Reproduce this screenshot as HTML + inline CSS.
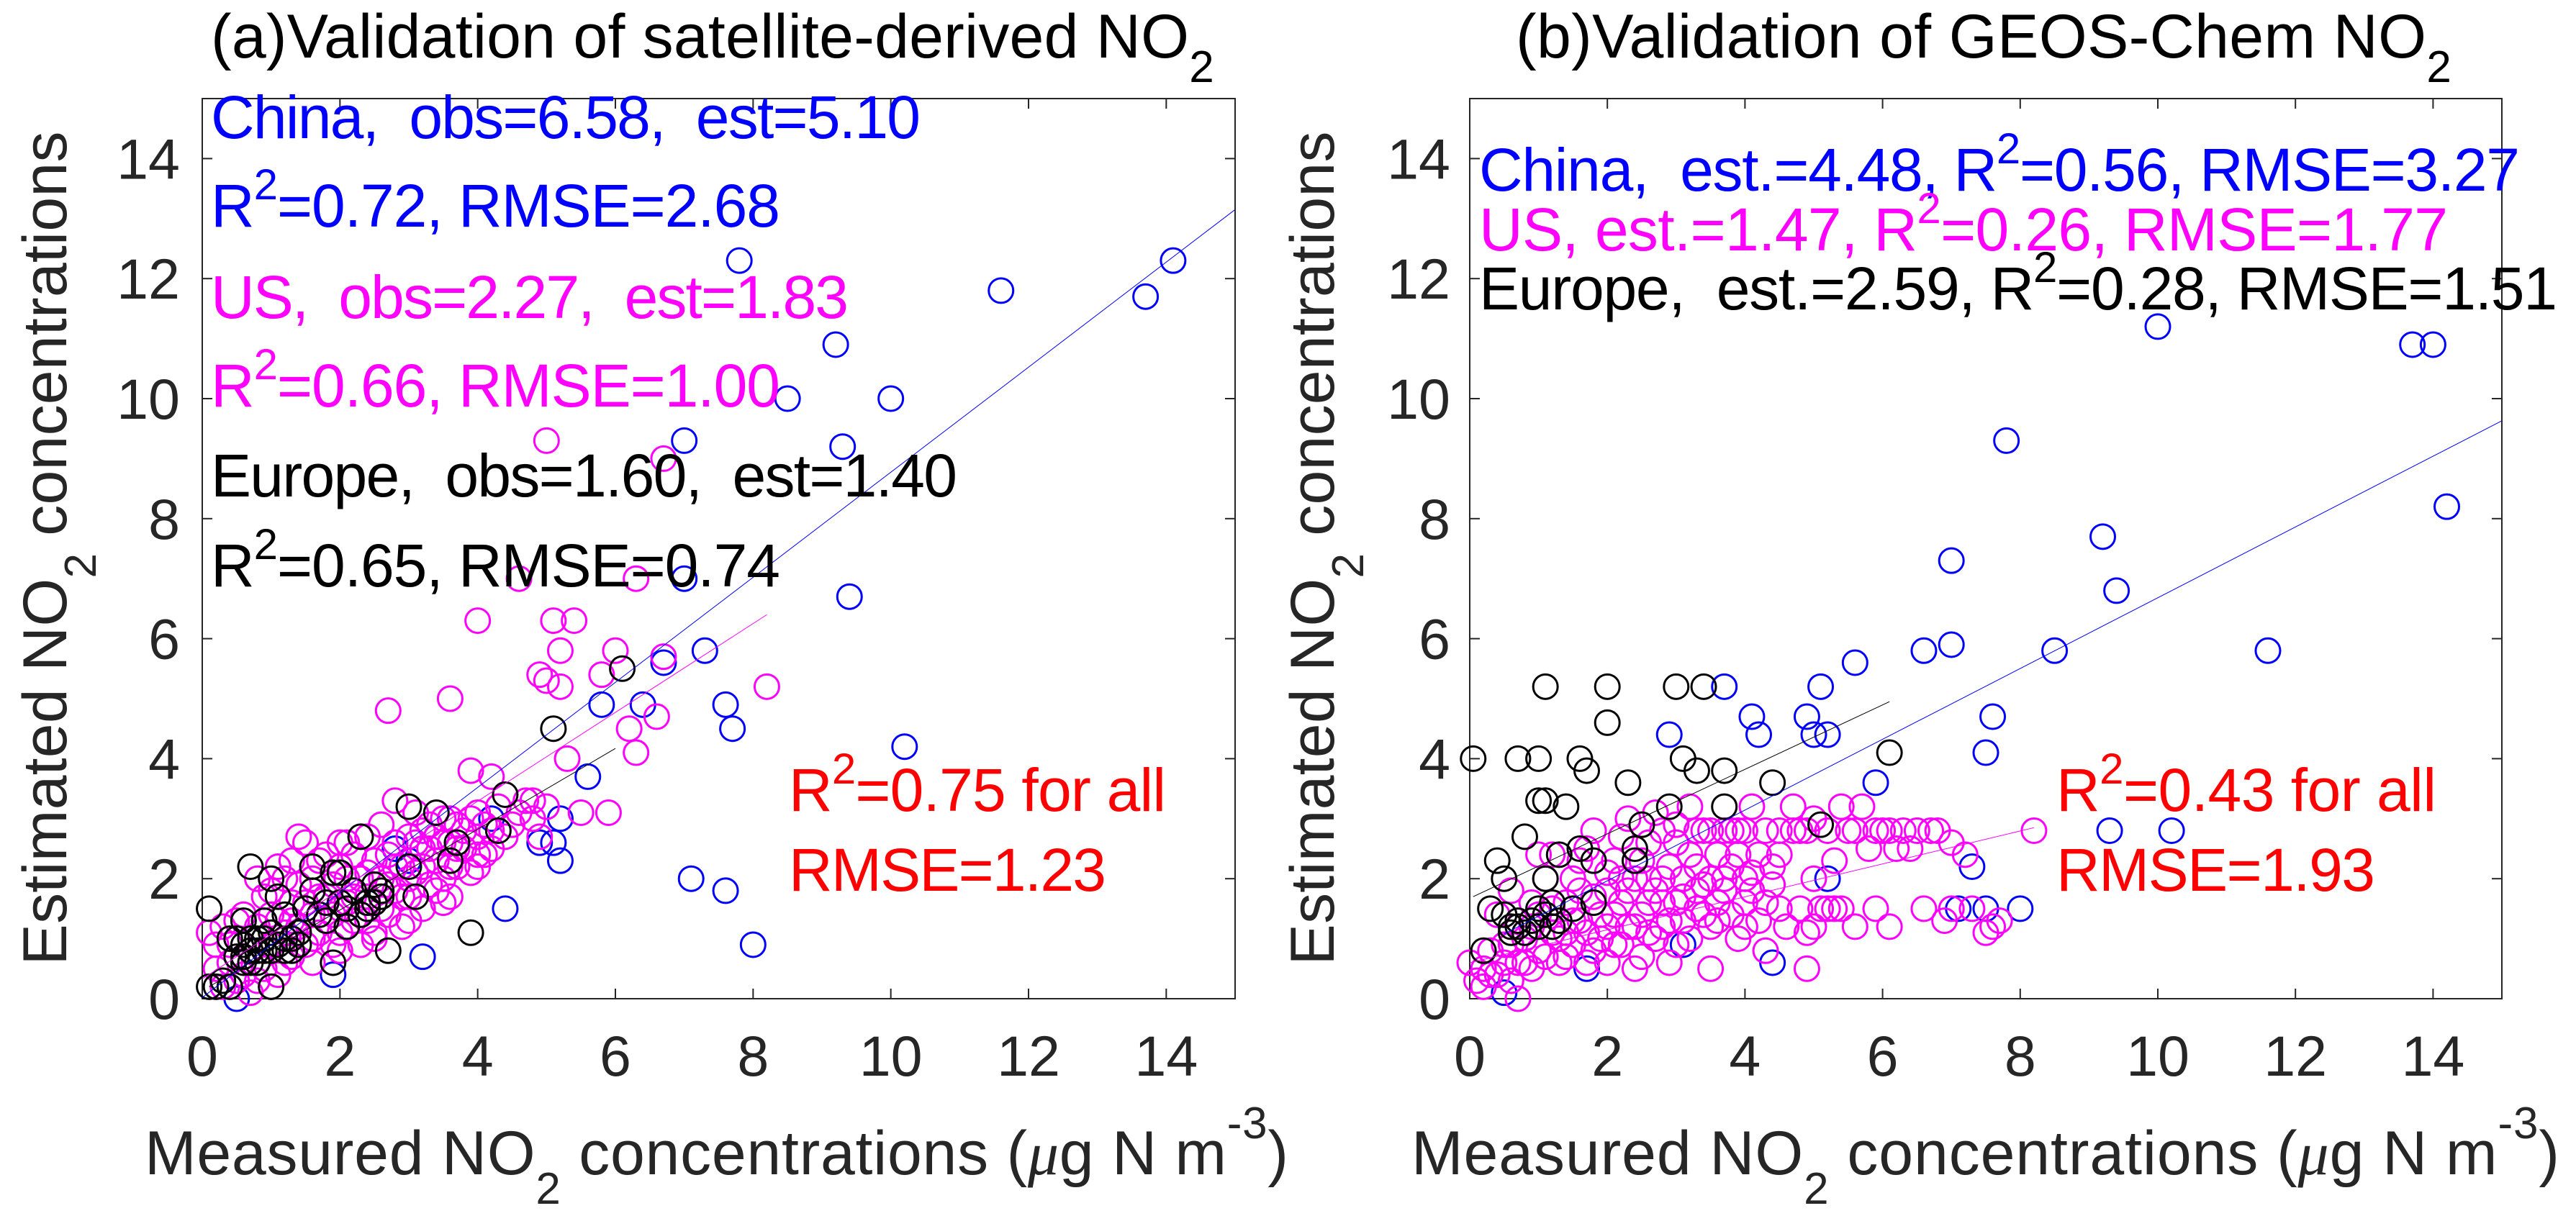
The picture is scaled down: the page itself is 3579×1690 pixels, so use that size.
<!DOCTYPE html>
<html><head><meta charset="utf-8"><style>
html,body{margin:0;padding:0;background:#fff;}
svg{display:block;font-family:"Liberation Sans",sans-serif;}
text{white-space:pre;}
</style></head><body>
<svg id="fig" width="3579" height="1690" viewBox="0 0 3579 1690" xmlns="http://www.w3.org/2000/svg"></svg>
<script>
// ---- data ----
const xTicks = [0,2,4,6,8,10,12,14];
const yTicks = [0,2,4,6,8,10,12,14];
const aChina = [[7.8,12.3],[11.6,11.8],[13.7,11.7],[14.1,12.3],[9.2,10.9],[8.5,10.0],[10.0,10.0],[7.0,9.3],[9.3,9.2],[7.0,7.0],[9.4,6.7],[7.3,5.8],[5.8,4.9],[6.4,4.9],[7.6,4.9],[7.7,4.5],[6.7,5.6],[10.2,4.2],[5.6,3.7],[5.2,3.0],[5.1,2.6],[5.2,2.3],[4.2,3.0],[4.4,1.5],[7.1,2.0],[7.6,1.8],[8.0,0.9],[3.2,0.7],[1.9,0.4],[0.5,0.0],[3.4,2.7],[2.8,2.5],[4.9,2.6],[3.0,2.3]];
const aUS = [[5.0,9.3],[6.7,9.0],[4.6,7.0],[6.3,7.0],[4.0,6.3],[5.1,6.3],[5.4,6.3],[5.2,5.8],[6.0,5.8],[6.7,5.7],[4.9,5.4],[5.2,5.2],[5.0,5.3],[5.8,5.4],[8.2,5.2],[2.7,4.8],[3.6,5.0],[6.6,4.7],[6.2,4.5],[6.3,4.1],[5.3,4.0],[3.9,3.8],[4.2,3.7],[4.8,3.3],[5.9,3.1],[5.5,3.1],
[0.1,1.1],[0.2,0.9],[0.3,1.2],[0.4,0.6],[0.5,1.0],[0.5,0.3],[0.6,1.4],[0.7,0.8],[0.7,0.1],[0.8,1.2],[0.9,0.5],[0.9,1.7],[1.0,0.9],[1.0,1.4],[1.1,0.4],[1.1,2.2],[1.2,1.1],[1.3,1.6],[1.3,0.7],[1.4,1.9],[1.4,1.2],[1.5,0.9],[1.5,2.6],[1.6,1.4],[1.6,2.0],[1.7,1.1],[1.7,1.7],[1.8,2.4],[1.8,1.3],[1.9,0.9],[1.9,1.9],[2.0,1.5],[2.0,2.6],[2.1,1.2],[2.1,2.0],[2.2,1.7],[2.2,2.4],[2.3,0.9],[2.3,1.4],[2.4,2.1],[2.4,2.7],[2.5,1.6],[2.5,1.1],[2.6,2.0],[2.6,2.9],[2.7,1.4],[2.7,2.4],[2.8,1.8],[2.8,3.3],[2.9,2.2],[2.9,1.2],[3.0,2.7],[3.0,1.7],[3.1,3.1],[3.1,2.1],[3.2,2.5],[3.2,1.5],[3.3,2.9],[3.3,1.9],[3.4,2.3],[3.4,2.7],[3.5,3.0],[3.5,2.0],[3.6,2.6],[3.6,1.7],[3.7,2.9],[3.7,2.2],[3.8,2.5],[3.9,3.0],[3.9,2.1],[4.0,2.7],[4.0,3.1],[4.1,2.4],[4.2,2.8],[4.3,3.2],[4.5,2.9],[4.6,3.1],[4.7,3.3],[4.8,3.0],[4.9,2.7],[5.0,3.2],[1.4,2.7],[2.1,2.6],[1.2,2.0],[0.8,2.0],[0.3,0.2],[0.6,0.4],[1.0,0.2],[1.6,0.6],[2.0,0.8],[2.5,1.0],[3.0,1.3],[3.5,1.6],
[0.2,0.5],[0.4,0.9],[0.6,0.7],[0.8,0.3],[0.9,1.0],[1.1,1.3],[1.2,0.6],[1.3,1.3],[1.5,1.6],[1.6,1.0],[1.7,2.3],[1.8,1.7],[1.9,1.4],[2.0,1.1],[2.1,1.6],[2.2,1.3],[2.3,2.0],[2.4,1.7],[2.5,2.3],[2.6,1.5],[2.7,1.9],[2.8,2.6],[2.9,1.7],[3.0,2.0],[3.1,2.6],[3.2,2.2],[3.3,2.5],[3.4,1.8],[3.5,2.6],[3.6,2.2],[3.7,2.5],[3.8,2.8],[4.0,2.4],[4.1,2.9],[4.2,2.5],[4.4,2.7],[1.0,1.8],[1.3,2.3],[0.5,1.3],[2.0,2.2],[2.4,1.3],[2.8,2.2],[3.2,2.8],[3.6,3.0],[4.0,2.2]];
const aEurope = [[0.1,1.5],[0.1,0.2],[0.2,0.2],[0.3,0.3],[0.4,0.2],[0.5,0.7],[0.5,1.0],[0.6,0.6],[0.6,0.9],[0.7,0.8],[0.7,2.2],[0.8,1.0],[0.8,0.6],[0.9,1.3],[0.9,0.8],[1.0,2.0],[1.0,1.1],[1.0,0.2],[1.1,0.9],[1.1,1.7],[1.2,0.8],[1.2,1.4],[1.3,1.0],[1.4,1.1],[1.5,1.5],[1.6,1.8],[1.6,2.2],[1.7,1.4],[1.8,1.3],[1.9,2.1],[1.9,0.6],[2.0,1.6],[2.1,1.2],[2.2,1.8],[2.3,2.7],[2.4,1.6],[2.5,1.9],[2.6,1.8],[2.7,0.8],[3.0,3.2],[3.1,1.7],[3.0,2.2],[3.4,3.1],[3.7,2.6],[3.6,2.3],[3.9,1.1],[4.3,2.8],[4.4,3.4],[5.1,4.5],[6.1,5.5],[0.6,1.3],[0.4,1.0],
[0.6,0.7],[0.7,1.0],[0.8,0.8],[0.7,0.6],[0.9,1.0],[1.0,0.8],[1.2,1.0],[1.3,0.8],[1.4,0.9],[2.1,1.5],[2.0,2.1],[1.8,1.6],[2.3,1.4],[2.4,1.5],[2.6,1.7],[2.5,1.6]];
const bChina = [[10.0,11.2],[13.7,10.9],[14.0,10.9],[7.8,9.3],[14.2,8.2],[9.2,7.7],[7.0,7.3],[9.4,6.8],[6.6,5.8],[7.0,5.9],[8.5,5.8],[11.6,5.8],[5.6,5.6],[3.7,5.2],[5.1,5.2],[4.1,4.7],[4.9,4.7],[5.2,4.4],[5.0,4.4],[2.9,4.4],[4.2,4.4],[7.6,4.7],[7.5,4.1],[5.9,3.6],[9.3,2.8],[10.2,2.8],[7.3,2.2],[5.2,2.0],[7.1,1.5],[7.5,1.5],[8.0,1.5],[4.4,0.6],[3.1,0.9],[0.5,0.1],[1.7,0.5]];
const bUS = [[0.0,0.6],[0.1,0.3],[0.2,0.5],[0.3,0.8],[0.4,0.4],[0.5,0.9],[0.6,0.3],[0.7,0.0],[0.7,0.6],[0.8,1.0],[0.9,0.5],[1.0,1.4],[1.0,0.8],[1.1,2.0],[1.2,1.1],[1.3,0.6],[1.4,1.6],[1.5,0.9],[1.5,2.0],[1.6,1.3],[1.7,0.6],[1.7,2.5],[1.8,1.7],[1.9,1.0],[2.0,2.1],[2.0,0.6],[2.1,1.4],[2.2,2.7],[2.2,0.9],[2.3,1.8],[2.4,1.2],[2.5,2.3],[2.5,0.7],[2.6,1.6],[2.7,3.1],[2.7,1.0],[2.8,2.0],[2.9,1.3],[2.9,0.6],[3.0,2.6],[3.1,1.7],[3.2,3.2],[3.2,1.0],[3.3,2.2],[3.4,1.4],[3.4,2.8],[3.5,2.0],[3.5,0.5],[3.6,1.3],[3.7,2.8],[3.7,1.8],[3.8,2.2],[3.9,1.0],[3.9,2.8],[4.0,1.6],[4.1,3.2],[4.1,2.1],[4.2,1.3],[4.3,2.8],[4.3,0.8],[4.4,1.9],[4.7,2.8],[4.7,3.2],[4.8,1.5],[4.9,2.8],[4.9,1.1],[4.9,0.5],[5.0,2.0],[5.1,1.5],[5.2,2.8],[5.3,1.5],[5.4,3.2],[5.5,2.8],[5.6,1.2],[5.7,3.2],[5.8,2.5],[5.9,1.5],[6.0,2.8],[6.1,1.2],[6.3,2.8],[6.4,2.5],[6.6,1.5],[6.7,2.8],[6.9,1.3],[7.0,2.6],[7.2,2.4],[7.5,1.1],[7.7,1.3],[8.2,2.8],[1.2,2.4],[0.6,1.8],[1.0,2.4],[2.3,3.0],[3.0,0.9],[2.6,2.0],[1.8,2.8],[3.6,2.4],[4.5,2.4],[4.0,2.0],[5.3,2.3],[0.4,1.4],[1.4,1.1],[2.0,1.8],[2.8,1.6],[3.3,1.8],
[0.2,0.2],[0.3,0.4],[0.5,0.6],[0.6,0.9],[0.8,0.6],[0.9,1.2],[1.1,0.7],[1.2,1.5],[1.3,1.0],[1.4,0.7],[1.5,1.3],[1.6,1.8],[1.7,1.1],[1.8,0.8],[1.9,1.4],[2.0,1.2],[2.1,0.9],[2.1,2.3],[2.2,1.6],[2.3,1.2],[2.4,2.0],[2.4,0.5],[2.5,1.4],[2.6,2.6],[2.6,1.1],[2.7,1.8],[2.8,1.2],[2.8,2.8],[2.9,2.2],[3.0,1.6],[3.0,2.9],[3.1,1.3],[3.2,2.4],[3.3,1.5],[3.3,2.8],[3.4,1.9],[3.5,1.2],[3.5,2.8],[3.6,1.6],[3.8,2.8],[3.8,1.4],[3.9,2.4],[4.0,2.8],[4.0,1.2],[4.1,1.8],[4.2,2.4],[4.3,1.6],[4.5,1.5],[4.5,2.8],[4.6,1.2],[4.8,2.8],[5.0,1.2],[5.0,3.0],[5.2,1.5],[5.4,1.5],[5.6,2.8],[5.9,2.8],[6.1,2.8],[6.2,2.5],[6.5,2.8],[6.8,2.8],[7.0,1.5],[7.3,1.5],[7.6,1.2],[1.6,2.3],[0.9,1.6],[2.2,2.0],[3.1,2.0],[3.7,2.0],[4.4,2.2]];
const bEurope = [[0.05,4.0],[0.7,4.0],[1.0,4.0],[1.1,5.2],[2.0,5.2],[3.0,5.2],[3.4,5.2],[2.0,4.6],[1.6,4.0],[1.7,3.8],[3.1,4.0],[3.3,3.8],[3.7,3.8],[2.3,3.6],[4.4,3.6],[6.1,4.1],[1.1,3.3],[1.0,3.3],[1.4,3.2],[2.9,3.2],[3.7,3.2],[2.5,2.9],[5.1,2.9],[0.8,2.7],[0.4,2.3],[1.3,2.4],[1.8,2.3],[1.6,2.5],[2.4,2.5],[2.4,2.3],[0.5,2.0],[1.1,2.0],[0.3,1.5],[0.5,1.4],[0.7,1.2],[0.9,1.3],[1.2,1.6],[1.5,1.5],[1.8,1.6],[1.3,1.3],[0.2,0.8],[1.0,1.2],[0.6,1.1],
[0.6,1.2],[0.7,1.3],[0.8,1.1],[1.0,1.5],[1.1,1.4],[1.2,1.2]];
// fit lines: [x0,y0,x1,y1]
const aFitChina = [0,0.02,15,13.15];
const aFitUS = [0,0.33,8.2,6.4];
const aFitEurope = [0.1,0.2,6.0,4.17];
const bFitChina = [0.5,1.08,15,9.63];
const bFitUS = [0,0.6,8.2,2.85];
const bFitEurope = [0.05,1.7,6.1,4.95];

const NS="http://www.w3.org/2000/svg";
const svg=document.getElementById('fig');
function el(tag,attrs,parent){const e=document.createElementNS(NS,tag);for(const k in attrs)e.setAttribute(k,attrs[k]);(parent||svg).appendChild(e);return e;}

const panels=[
 {id:'a',L:281,R:1716,T:137,B:1388,china:aChina,us:aUS,eu:aEurope,fits:[aFitChina,aFitUS,aFitEurope],ytr:250,ylx:92,xlStart:201,xlLen:1589,
  title:'(a)Validation of satellite-derived NO',tx:293,tlen:1359},
 {id:'b',L:2042,R:3476,T:137,B:1388,china:bChina,us:bUS,eu:bEurope,fits:[bFitChina,bFitUS,bFitEurope],ytr:2015,ylx:1853,xlStart:1961,xlLen:1595,
  title:'(b)Validation of GEOS-Chem NO',tx:2106,tlen:1265}
];
const colors=['#0000ff','#ff00ff','#000000'];

panels.forEach(p=>{
  const g=el('g',{});
  
  
  const sx=v=>p.L+(v/15)*(p.R-p.L);
  const sy=v=>p.B-(v/15)*(p.B-p.T);
  const box=el('rect',{x:p.L,y:p.T,width:p.R-p.L,height:p.B-p.T,fill:'none',stroke:'#262626','stroke-width':2},g);
  
  
  xTicks.forEach(t=>{
    const x=sx(t);
    el('line',{x1:x,y1:p.B,x2:x,y2:p.B-14,stroke:'#262626','stroke-width':2},g);
    el('line',{x1:x,y1:p.T,x2:x,y2:p.T+14,stroke:'#262626','stroke-width':2},g);
    const tl=el('text',{x:x,y:1495,'font-size':79,'text-anchor':'middle',fill:'#262626'},g);
    tl.textContent=t;
    
    
  });
  yTicks.forEach(t=>{
    const y=sy(t);
    el('line',{x1:p.L,y1:y,x2:p.L+14,y2:y,stroke:'#262626','stroke-width':2},g);
    el('line',{x1:p.R,y1:y,x2:p.R-14,y2:y,stroke:'#262626','stroke-width':2},g);
    const tl=el('text',{x:p.ytr,y:y+28,'font-size':79,'text-anchor':'end',fill:'#262626'},g);
    tl.textContent=t;
    
    
  });
  [p.china,p.us,p.eu].forEach((arr,i)=>{
    const sg=el('g',{fill:'none',stroke:colors[i],'stroke-width':3},g);
    
    
    arr.forEach(d=>{
      const c=el('circle',{cx:sx(d[0]),cy:sy(d[1]),r:17},sg);
      
      
    });
  });
  p.fits.forEach((f,i)=>{
    const ln=el('line',{x1:sx(f[0]),y1:sy(f[1]),x2:sx(f[2]),y2:sy(f[3]),stroke:colors[i],'stroke-width':1},g);
    
    
  });
  const tt=el('text',{x:p.tx,y:80,'font-size':86,fill:'#000'},g);
  
  
  const t1=el('tspan',{textLength:p.tlen},tt); t1.textContent=p.title;
  const t2=el('tspan',{dy:34,'font-size':62},tt); t2.textContent='2';
  const xl=el('text',{x:p.xlStart,y:1632,'font-size':86,fill:'#262626'},g);
  
  
  xl.innerHTML='<tspan>Measured NO</tspan><tspan dy="41" font-size="62">2</tspan><tspan dy="-41"> concentrations (</tspan><tspan font-style="italic" font-family="Liberation Serif">μ</tspan><tspan>g N m</tspan><tspan dy="-50" font-size="62">-3</tspan><tspan dy="50">)</tspan>';
  xl.setAttribute('textLength',p.xlLen);
  const yl=el('text',{x:0,y:0,'font-size':86,fill:'#262626','text-anchor':'middle',transform:`translate(${p.ylx},762) rotate(-90)`},g);
  
  
  yl.innerHTML='<tspan>Estimated NO</tspan><tspan dy="41" font-size="62">2</tspan><tspan dy="-41"> concentrations</tspan>';
  yl.setAttribute('textLength',1159);
});

function ann(x,y,color,parts,len,name){
  const t=el('text',{x:x,y:y,'font-size':84,fill:color,textLength:len,lengthAdjust:'spacing'});
  
  
  t.innerHTML=parts;
}
const R2='R<tspan dy="-38" font-size="60">2</tspan><tspan dy="38">=</tspan>';
ann(293,192,'#0000ff','China,  obs=6.58,  est=5.10',986,'china-stats');
ann(293,315,'#0000ff',R2+'0.72, RMSE=2.68',791,'china-r2');
ann(293,442,'#ff00ff','US,  obs=2.27,  est=1.83',886,'us-stats');
ann(293,565,'#ff00ff',R2+'0.66, RMSE=1.00',791,'us-r2');
ann(293,690,'#000000','Europe,  obs=1.60,  est=1.40',1037,'europe-stats');
ann(293,815,'#000000',R2+'0.65, RMSE=0.74',791,'europe-r2');
ann(1096,1127,'#ff0000',R2+'0.75 for all',524,'overall-r2-a');
ann(1096,1238,'#ff0000','RMSE=1.23',441,'overall-rmse-a');
ann(2055,265,'#0000ff','China,  est.=4.48, '+R2+'0.56, RMSE=3.27',1446,'china-stats-b');
ann(2055,348,'#ff00ff','US, est.=1.47, '+R2+'0.26, RMSE=1.77',1346,'us-stats-b');
ann(2055,430,'#000000','Europe,  est.=2.59, '+R2+'0.28, RMSE=1.51',1498,'europe-stats-b');
ann(2857,1127,'#ff0000',R2+'0.43 for all',528,'overall-r2-b');
ann(2857,1238,'#ff0000','RMSE=1.93',443,'overall-rmse-b');
</script>
</body></html>
